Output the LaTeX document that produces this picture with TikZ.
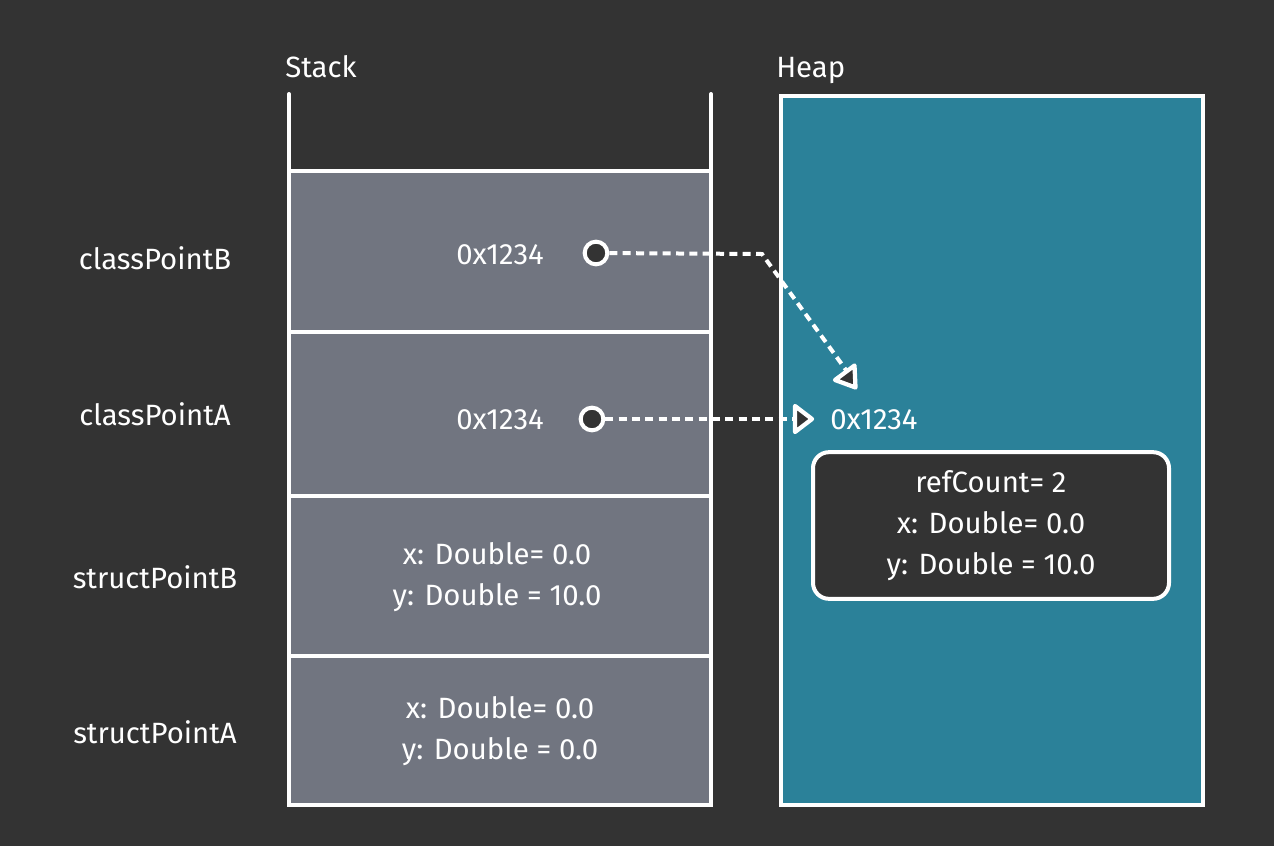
\documentclass[tikz,border=0pt]{standalone}
\usepackage{fontspec}
\setmainfont{Fira Sans}
\definecolor{bg}{RGB}{51,51,51}
\definecolor{stackgray}{RGB}{113,117,128}
\definecolor{heapteal}{RGB}{43,129,153}
\begin{document}
\begin{tikzpicture}[x=0.75pt,y=-0.75pt,
  wline/.style={draw=white,line width=3pt},
  cell/.style={wline,fill=stackgray},
  lbl/.style={text=white,font=\fontsize{22}{26}\selectfont,inner sep=0pt},
  multi/.style={lbl,align=center,font=\fontsize{22}{30.5}\selectfont},
  ptr/.style={white,line width=3pt,dash pattern=on 6pt off 4pt},
  dot/.style={circle,draw=white,line width=3pt,fill=bg,minimum size=17pt,inner sep=0pt},
  head/.style={draw=white,fill=bg,line width=3.2pt,line join=round}
]
\useasboundingbox[fill=bg] (0,0) rectangle (1274,846);
% stack
\draw[wline,line cap=round] (289,94) -- (289,171);
\draw[wline,line cap=round] (711,94) -- (711,171);
\draw[cell] (289,171) rectangle (711,332);
\draw[cell] (289,332) rectangle (711,496);
\draw[cell] (289,496) rectangle (711,656);
\draw[cell] (289,656) rectangle (711,805);
% heap
\draw[wline,fill=heapteal] (781,96) rectangle (1203,805);
\node[draw=white,line width=3pt,fill=bg,rounded corners=12pt,minimum width=267pt,minimum height=110pt] (obj) at (991,525.5) {};
\node[multi] at (obj) {refCount= 2\\x: Double= 0.0\\y: Double = 10.0};
% titles
\node[lbl,anchor=base west] (stk) at (285,77) {Stack};
\node[lbl,anchor=base west] (hp) at (776,77) {Heap};
% left labels
\node[lbl] (cpb) at (155,258) {classPointB};
\node[lbl] (cpa) at (155,414) {classPointA};
\node[lbl] (spb) at (155,577) {structPointB};
\node[lbl] (spa) at (155,732) {structPointA};
% stack contents
\node[lbl] (vb) at (500,255) {0x1234};
\node[lbl] (va) at (500,420) {0x1234};
\node[multi] (sb) at (497,577) {x: Double= 0.0\\y: Double = 10.0};
\node[multi] (sa) at (500,731) {x: Double= 0.0\\y: Double = 0.0};
\node[lbl,anchor=west] (hv) at (830,420) {0x1234};
% pointers
\coordinate (bend) at (762,254);
\coordinate (tipb) at (846,370);
\coordinate (tipa) at (795,419);
\draw[ptr] (596,253) -- (bend) -- (tipb);
\draw[ptr] (592,419) -- (tipa);
\draw[head] (835,380) -- (854.5,365.5) -- (855.5,387.5) -- cycle;
\draw[head] (795,406) -- (812,419) -- (795,432) -- cycle;
\node[dot] (db) at (596,253) {};
\node[dot] (da) at (592,419) {};
\end{tikzpicture}
\end{document}
